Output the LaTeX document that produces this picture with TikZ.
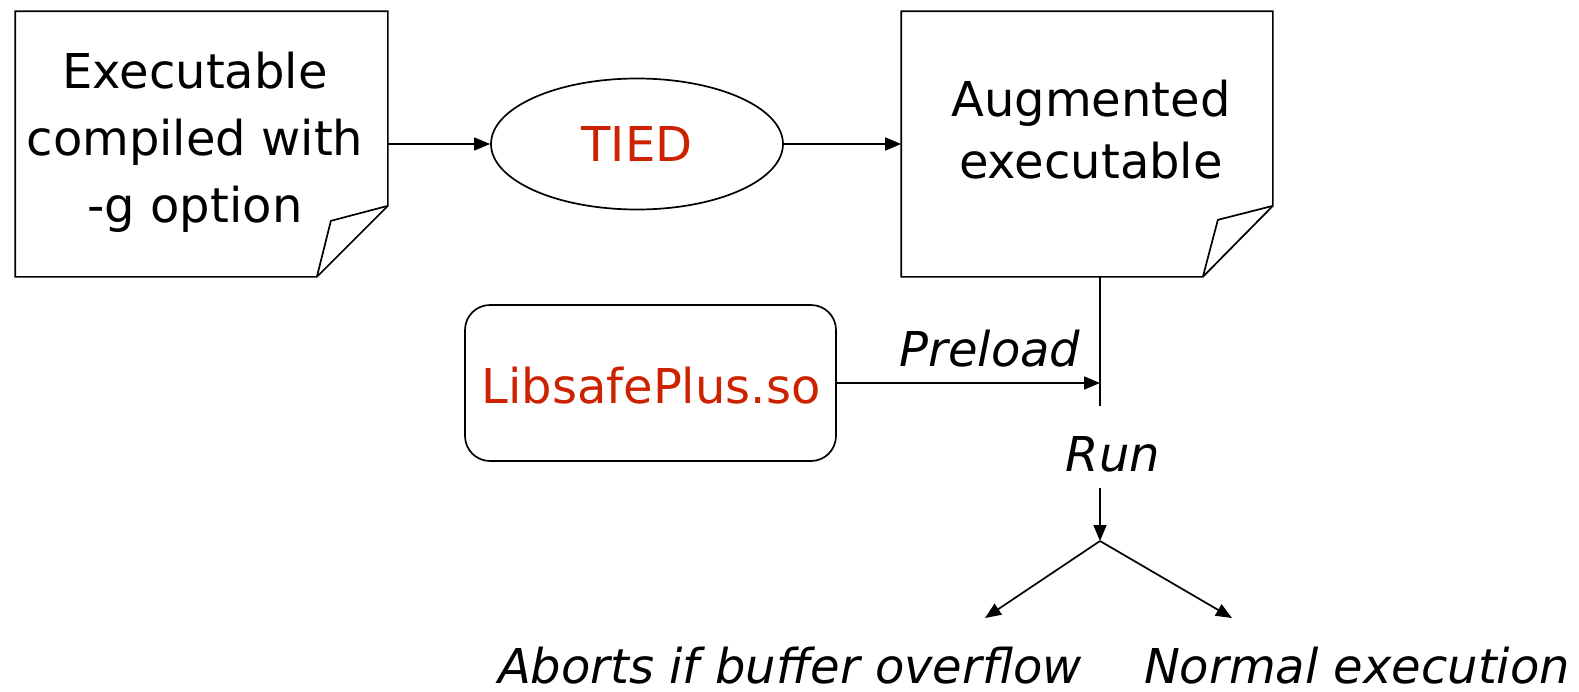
\documentclass[tikz,border=0pt]{standalone}
\usepackage{fontspec}
\setmainfont{DejaVu Sans}
\usetikzlibrary{arrows.meta,shapes.geometric,calc}
\definecolor{tiedred}{RGB}{204,34,0}
\begin{document}
\begin{tikzpicture}[x=1pt,y=-1pt,line width=1.7pt,
  txt/.style={font=\fontsize{48}{67}\selectfont, inner sep=0pt, align=center},
  itx/.style={font=\fontsize{48}{67}\selectfont\itshape, inner sep=0pt},
  frame/.style={minimum width=#1, inner sep=0pt},
  arr/.style={-{Triangle[length=16pt,width=13pt]}, line width=1.7pt}]
\useasboundingbox (0,0) rectangle (1579,691);
% document 1
\node[frame=371pt, minimum height=264pt] (exe) at (201.5,144) {};
\draw (exe.north west) -- (exe.north east) -- ($(exe.south east)+(0,-71)$) coordinate (f1)
  -- ($(exe.south east)+(-71,0)$) coordinate (f2) -- (exe.south west) -- cycle;
\draw (f1) -- ($(exe.south east)+(-57,-56)$) -- (f2);
\node[txt] (exetxt) at (195,142) {Executable\\compiled with\\-g option};
% TIED
\node[draw, ellipse, minimum width=292pt, minimum height=131pt, inner sep=0pt,
  font=\fontsize{48}{67}\selectfont, text=tiedred] (tied) at (637,144) {TIED};
% document 2
\node[frame=370pt, minimum height=264pt] (aug) at (1087,144) {};
\draw (aug.north west) -- (aug.north east) -- ($(aug.south east)+(0,-71)$) coordinate (g1)
  -- ($(aug.south east)+(-70,0)$) coordinate (g2) -- (aug.south west) -- cycle;
\draw (g1) -- ($(aug.south east)+(-55,-57)$) -- (g2);
\node[txt, font=\fontsize{48}{62}\selectfont] (augtxt) at (1091,130) {Augmented\\executable};
% library
\node[draw, rounded corners=25pt, minimum width=371pt, minimum height=156pt, inner sep=0pt]
  (lib) at (650.5,383) {};
\node[txt, text=tiedred] (libtxt) at (651,386) {LibsafePlus.so};
% junctions
\coordinate (j0) at (1100,383);
\coordinate (j1) at (1100,406);
\coordinate (j2) at (1100,488);
\coordinate (br) at (1100,541);
\coordinate (ab) at (985,618);
\coordinate (ne) at (1232,618);
% connectors
\draw[arr] (exe.east) -- (tied.west);
\draw[arr] (tied.east) -- (aug.west);
\draw (aug.south -| j1) -- (j1);
\draw[arr] (lib.east) -- (j0);
\draw[arr] (j2) -- (br);
\draw[arr] (br) -- (ab);
\draw[arr] (br) -- (ne);
% labels
\node[itx] (preload) at (990,349) {Preload};
\node[itx] (run) at (1113,454) {Run};
\node[itx] (abort) at (790,666) {Aborts if buffer overflow};
\node[itx] (normal) at (1357,666) {Normal execution};
\end{tikzpicture}
\end{document}
